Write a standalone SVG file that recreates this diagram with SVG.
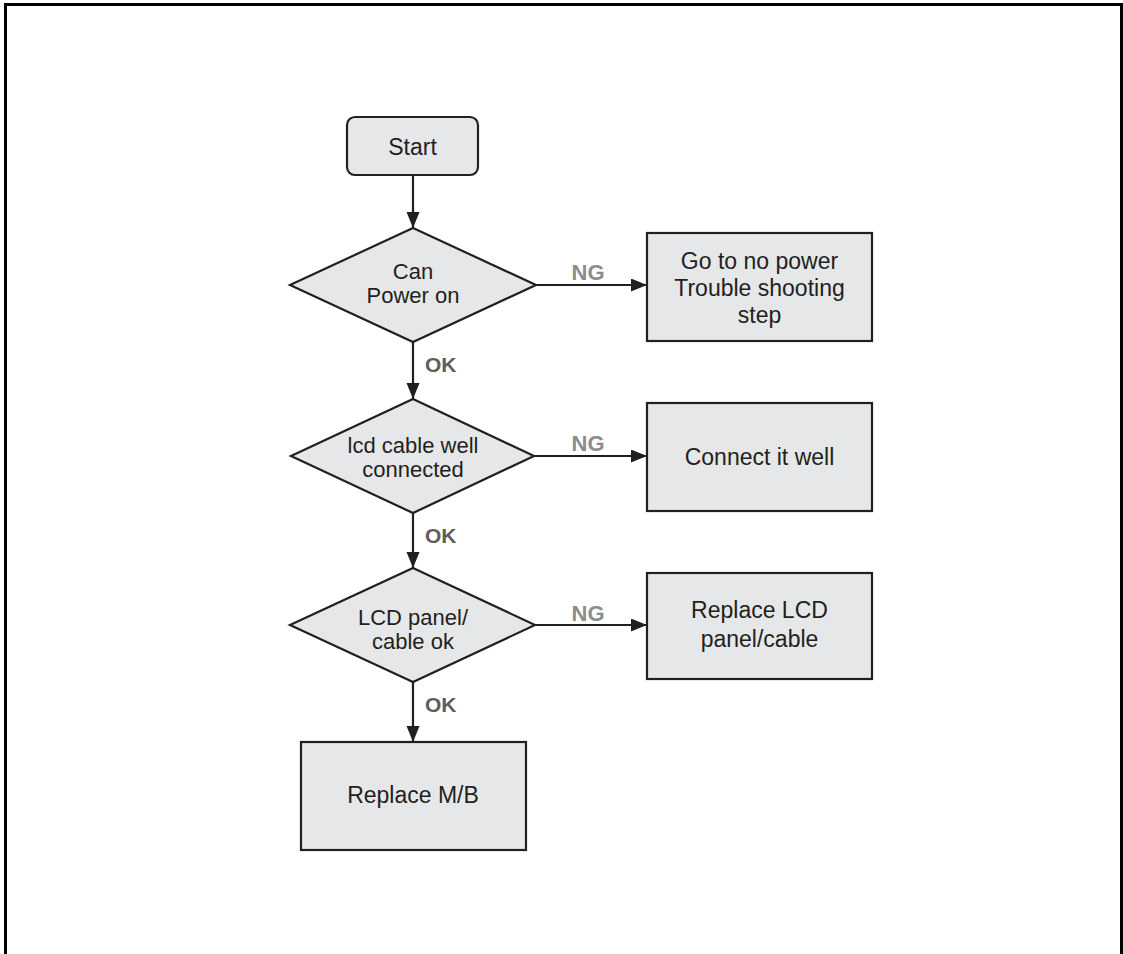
<svg xmlns="http://www.w3.org/2000/svg" width="1123" height="954" viewBox="0 0 1123 954">
<style>
.shape{fill:#e6e7e8;stroke:#231f20;stroke-width:2.2}
.t{font-family:"Liberation Sans",Arial,sans-serif;font-size:23px;fill:#231f20;text-anchor:middle}
.d{font-size:22px}
.ng{font-family:"Liberation Sans",Arial,sans-serif;font-size:22px;font-weight:bold;fill:#8c8c8c;text-anchor:middle}
.ok{font-family:"Liberation Sans",Arial,sans-serif;font-size:21px;font-weight:bold;fill:#5e5e5e}
.c{stroke:#231f20;stroke-width:2.2;fill:none;marker-end:url(#ah)}
</style>
<defs>
<marker id="ah" markerUnits="userSpaceOnUse" markerWidth="17" markerHeight="14" refX="16" refY="6.5" orient="auto">
<path d="M0,0 L16,6.5 L0,13 Z" fill="#231f20"/>
</marker>
</defs>
<rect width="1123" height="954" fill="#fff"/>
<path d="M5.5,954 V4.5 H1121.5 V954" fill="none" stroke="#000" stroke-width="3"/>
<g id="connectors">
<path class="c" d="M413,175 V228"/>
<path class="c" d="M413,342 V399"/>
<path class="c" d="M413,513 V568"/>
<path class="c" d="M413,682 V742"/>
<path class="c" d="M536,285 H647"/>
<path class="c" d="M534,456 H647"/>
<path class="c" d="M535,625 H647"/>
<text class="ng" x="588" y="280">NG</text>
<text class="ng" x="588" y="451">NG</text>
<text class="ng" x="588" y="621">NG</text>
<text class="ok" x="425" y="372">OK</text>
<text class="ok" x="425" y="543">OK</text>
<text class="ok" x="425" y="712">OK</text>
</g>
<g id="start">
<rect class="shape" x="347" y="117" width="131" height="58" rx="8"/>
<text class="t" x="412.5" y="155">Start</text>
</g>
<g id="d1">
<polygon class="shape" points="413,228 536,285 413,342 290,285"/>
<text class="t d" x="413" y="279">Can</text>
<text class="t d" x="413" y="303">Power on</text>
</g>
<g id="b1">
<rect class="shape" x="647" y="233" width="225" height="108"/>
<text class="t" x="759.5" y="269">Go to no power</text>
<text class="t" x="759.5" y="296">Trouble shooting</text>
<text class="t" x="759.5" y="323">step</text>
</g>
<g id="d2">
<polygon class="shape" points="413,399 534,456 413,513 291,456"/>
<text class="t d" x="413" y="453">lcd cable well</text>
<text class="t d" x="413" y="477">connected</text>
</g>
<g id="b2">
<rect class="shape" x="647" y="403" width="225" height="108"/>
<text class="t" x="759.5" y="465">Connect it well</text>
</g>
<g id="d3">
<polygon class="shape" points="413,568 535,625 413,682 290,625"/>
<text class="t d" x="413" y="625">LCD panel/</text>
<text class="t d" x="413" y="649">cable ok</text>
</g>
<g id="b3">
<rect class="shape" x="647" y="573" width="225" height="106"/>
<text class="t" x="759.5" y="618">Replace LCD</text>
<text class="t" x="759.5" y="647">panel/cable</text>
</g>
<g id="b4">
<rect class="shape" x="301" y="742" width="225" height="108"/>
<text class="t" x="413" y="803">Replace M/B</text>
</g>
</svg>
